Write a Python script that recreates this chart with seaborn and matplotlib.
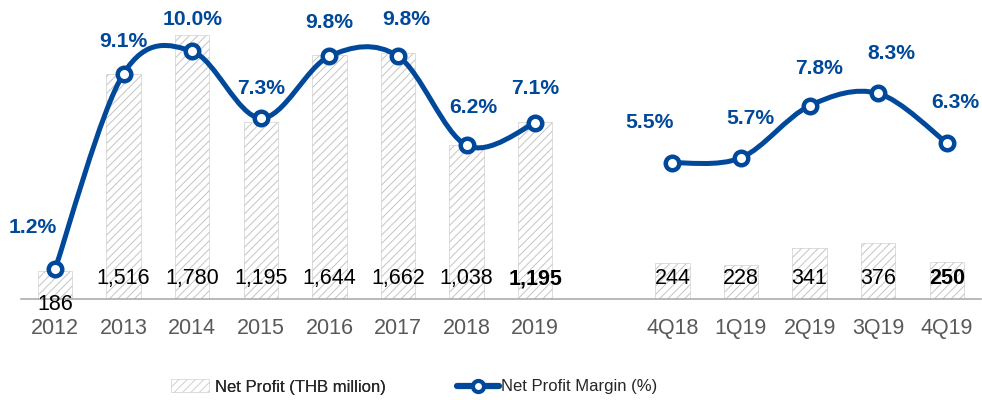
import numpy as np
import pandas as pd
import matplotlib
matplotlib.use("Agg")
import matplotlib.pyplot as plt
import seaborn as sns
from matplotlib.path import Path
from matplotlib.patches import PathPatch, Patch
from matplotlib.lines import Line2D

# ---------------- data ----------------
annual_periods = ["2012", "2013", "2014", "2015", "2016", "2017", "2018", "2019"]
annual_profit = [186, 1516, 1780, 1195, 1644, 1662, 1038, 1195]
annual_margin = [1.2, 9.1, 10.0, 7.3, 9.8, 9.8, 6.2, 7.1]

quarter_periods = ["4Q18", "1Q19", "2Q19", "3Q19", "4Q19"]
quarter_profit = [244, 228, 341, 376, 250]
quarter_margin = [5.5, 5.7, 7.8, 8.3, 6.3]

bold_profit_labels = ["2019", "4Q19"]

# ---------------- style ----------------
sns.set_theme(style="white")
plt.rcParams["font.family"] = ["Liberation Sans", "DejaVu Sans"]
plt.rcParams["hatch.linewidth"] = 0.7

BLUE = "#004899"
GREY_TXT = "#595959"
AXIS_GREY = "#a6a6a6"
BAR_EDGE = "#c4c4c4"

GAP = " "
order = annual_periods + [GAP] + quarter_periods
pos = {p: i for i, p in enumerate(order)}

df_bar = pd.DataFrame({
    "period": annual_periods + quarter_periods,
    "profit": annual_profit + quarter_profit,
})
df_line = pd.DataFrame({
    "period": annual_periods + quarter_periods,
    "margin": annual_margin + quarter_margin,
    "segment": ["annual"] * len(annual_periods) + ["quarter"] * len(quarter_periods),
})
df_line["x"] = df_line["period"].map(pos)

fig = plt.figure(figsize=(9.82, 4.0), dpi=100)
ax = fig.add_axes([20.7 / 982, 101 / 400, 960.4 / 982, 299 / 400])

sns.barplot(data=df_bar, x="period", y="profit", order=order, ax=ax,
            color="white", edgecolor=BAR_EDGE, linewidth=0.4,
            hatch="////", width=0.5, saturation=1)
ax.set_xlim(-0.5, len(order) - 0.5)
ax.set_ylim(0, 2016)
ax.set_xlabel("")
ax.set_ylabel("")
ax.set_yticks([])
for s in ["top", "right", "left"]:
    ax.spines[s].set_visible(False)
ax.spines["bottom"].set_color(AXIS_GREY)
ax.spines["bottom"].set_linewidth(1.1)
ax.set_xticks(range(len(order)))
ax.set_xticklabels(order)
ax.tick_params(axis="x", which="major", length=0, pad=13.5,
               labelsize=15.5, labelcolor=GREY_TXT)
ax.set_xticks(np.arange(-0.5, len(order) - 0.5, 1.0), minor=True)
ax.tick_params(axis="x", which="minor", length=4, width=1.1,
               color=AXIS_GREY, direction="out")

# bar value labels
for _, r in df_bar.iterrows():
    x = pos[r["period"]]
    bold = r["period"] in bold_profit_labels
    dy = -11 if r["profit"] < 200 else 15
    ax.annotate(f"{r['profit']:,}", xy=(x, 0), xytext=(0, dy),
                textcoords="offset pixels", ha="center", va="baseline",
                fontsize=15.5, color="black",
                fontweight="bold" if bold else "normal",
                annotation_clip=False, zorder=5)

# ---------------- margin line ----------------
ax2 = ax.twinx()
ax2.set_ylim(0, 12.07)
ax2.set_yticks([])
for s in ax2.spines.values():
    s.set_visible(False)


def smooth_path(xs, ys):
    pts = np.column_stack([xs, ys]).astype(float)
    n = len(pts)
    verts = [pts[0]]
    codes = [Path.MOVETO]
    for i in range(n - 1):
        p0 = pts[max(i - 1, 0)]
        p1 = pts[i]
        p2 = pts[i + 1]
        p3 = pts[min(i + 2, n - 1)]
        c1 = p1 + (p2 - p0) / 6.0
        c2 = p2 - (p3 - p1) / 6.0
        verts += [c1, c2, p2]
        codes += [Path.CURVE4] * 3
    return Path(verts, codes)


for seg, g in df_line.groupby("segment"):
    path = smooth_path(g["x"].values, g["margin"].values)
    ax2.add_patch(PathPatch(path, facecolor="none", edgecolor=BLUE, lw=3.6,
                            capstyle="round", joinstyle="round", zorder=2))

sns.scatterplot(data=df_line, x="x", y="margin", ax=ax2, marker="o", s=95,
                color="white", edgecolor=BLUE, linewidth=3.2, zorder=3,
                legend=False)
ax2.set_xlim(-0.5, len(order) - 0.5)
ax2.set_xlabel("")
ax2.set_ylabel("")

# label offsets in pixels (dx, dy)
label_offsets = [(-22, 42), (0, 32), (0, 32), (0, 30), (0, 34), (8, 37),
                 (7, 38), (0, 35),
                 (-23, 40), (9, 39), (9, 37), (13, 40), (9, 40)]
for (_, r), (dx, dy) in zip(df_line.iterrows(), label_offsets):
    ax2.annotate(f"{r['margin']:.1f}%", xy=(r["x"], r["margin"]),
                 xytext=(dx, dy), textcoords="offset pixels",
                 ha="center", va="center", fontsize=15.2, fontweight="bold",
                 color=BLUE, annotation_clip=False, zorder=6)

# ---------------- legend ----------------
bar_handle = Patch(facecolor="white", edgecolor="#d0d0d0", hatch="////", lw=0.4)
line_handle = Line2D([], [], color=BLUE, lw=4.5, marker="o", ms=8,
                     mfc="white", mec=BLUE, mew=3, solid_capstyle="round")
leg1 = fig.legend([bar_handle], ["Net Profit (THB million)"],
                  loc="center left", bbox_to_anchor=(171 / 982, 1 - 387 / 400),
                  frameon=False, fontsize=12, borderpad=0, borderaxespad=0,
                  handlelength=2.3, handleheight=0.8, handletextpad=0.35)
fig.add_artist(leg1)
leg2 = fig.legend([line_handle], ["Net Profit Margin (%)"],
                  loc="center left", bbox_to_anchor=(457 / 982, 1 - 387 / 400),
                  frameon=False, fontsize=12, borderpad=0, borderaxespad=0,
                  handlelength=2.5, handletextpad=0.15)

fig.savefig("out.png", dpi=100)
